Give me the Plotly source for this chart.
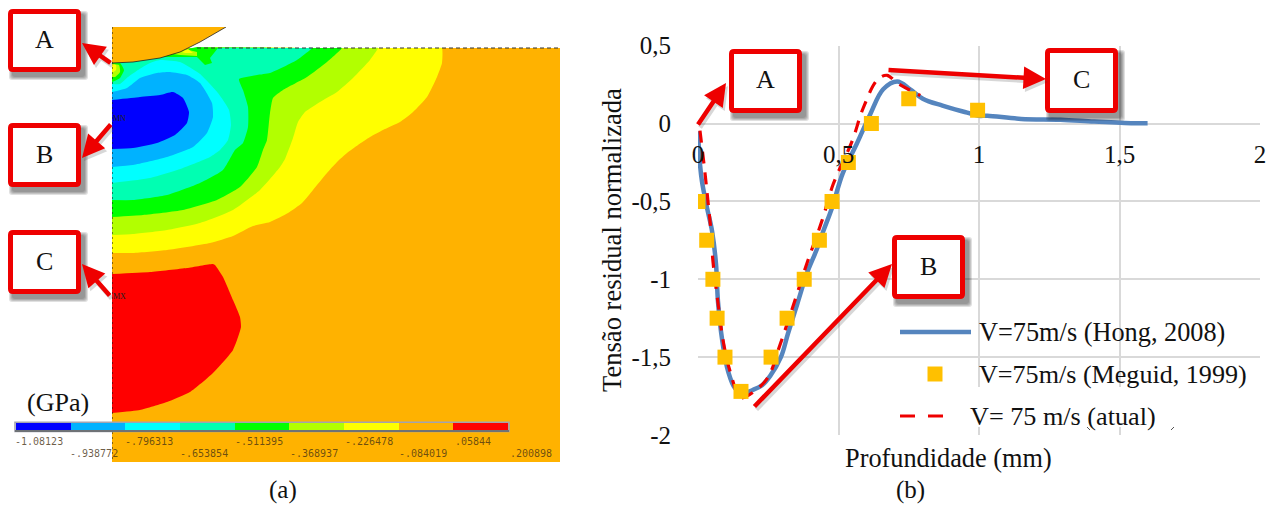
import plotly.graph_objects as go

W, H = 1274, 506

# ---------- chart (b): residual stress profile ----------
depth_ticks = [0, 0.5, 1, 1.5, 2]
depth_labels = ["0", "0,5", "1", "1,5", "2"]
stress_ticks = [0.5, 0, -0.5, -1, -1.5, -2]
stress_labels = ["0,5", "0", "-0,5", "-1", "-1,5", "-2"]

hong_x = [0.0, 0.007, 0.014, 0.032, 0.05, 0.064, 0.071, 0.086, 0.107, 0.132, 0.16, 0.196, 0.228, 0.257, 0.295, 0.32,
          0.353, 0.388, 0.42, 0.446, 0.477, 0.515, 0.565, 0.613, 0.659, 0.709, 0.755, 0.8, 0.87, 0.958, 0.998, 1.03,
          1.15, 1.29, 1.41, 1.55, 1.6]
hong_y = [-0.05, -0.26, -0.37, -0.54, -0.69, -0.9, -1.14, -1.39, -1.59, -1.7, -1.73, -1.71, -1.68, -1.62, -1.5, -1.35,
          -1.16, -0.96, -0.82, -0.69, -0.54, -0.32, -0.13, 0.06, 0.22, 0.27, 0.22, 0.16, 0.115, 0.07, 0.05, 0.05,
          0.03, 0.025, 0.013, 0.002, 0.002]
meguid_x = [0.0, 0.031, 0.053, 0.068, 0.096, 0.153, 0.26, 0.317, 0.378, 0.432, 0.477, 0.535, 0.617, 0.75, 0.995]
meguid_y = [-0.5, -0.75, -1, -1.25, -1.5, -1.72, -1.5, -1.25, -1, -0.75, -0.5, -0.25, 0, 0.16, 0.085]
atual_x = [0.007, 0.025, 0.036, 0.046, 0.053, 0.071, 0.089, 0.114, 0.153, 0.2, 0.249, 0.292, 0.346, 0.389, 0.442,
           0.481, 0.549, 0.588, 0.638, 0.673, 0.709, 0.791]
atual_y = [-0.045, -0.32, -0.51, -0.69, -0.88, -1.15, -1.39, -1.59, -1.76, -1.72, -1.63, -1.42, -1.13, -0.89, -0.62,
           -0.39, -0.11, 0.1, 0.28, 0.31, 0.26, 0.18]

series_names = ["V=75m/s (Hong, 2008)", "V=75m/s (Meguid, 1999)", "V= 75 m/s (atual)"]

# ---------- chart (a): contour map, outlines read in image coordinates ----------
levels = [-1.08123, -0.938772, -0.796313, -0.653854, -0.511395, -0.368937, -0.226478, -0.084019, 0.05844, 0.200898]
level_labels = ["-1.08123", "-.938772", "-.796313", "-.653854", "-.511395", "-.368937", "-.226478", "-.084019",
                ".05844", ".200898"]
band_colors = ["#0000FF", "#00B2FF", "#00FFFF", "#00FFB2", "#00FF00", "#B2FF00", "#FFFF00", "#FFB200", "#FF0000"]

field_x = [112, 560, 560, 112]
field_y = [48, 48, 462, 462]
ball_x = [112, 133, 160, 180, 200, 226, 226, 112]
ball_y = [63, 62, 58, 52, 42, 27, 27, 27]

yellow_x = [112, 197, 300, 438, 442, 442, 437, 427, 413, 400, 383, 370, 358, 347, 337, 327, 313, 302, 288, 270, 253,
            233, 210, 167, 133, 112]
yellow_y = [60, 48, 48, 48, 48, 63, 77, 97, 112, 122, 130, 137, 145, 153, 162, 173, 190, 203, 213, 222, 226, 236, 243,
            250, 253, 253]
lime_x = [112, 197, 300, 374, 378, 370, 353, 337, 320, 305, 298, 293, 285, 280, 260, 233, 200, 167, 133, 112]
lime_y = [60, 48, 48, 48, 48, 60, 78, 92, 102, 112, 122, 138, 159, 167, 190, 210, 223, 230, 234, 235]
green_x = [112, 197, 280, 338, 342, 327, 307, 283, 273, 270, 267, 263, 257, 240, 217, 183, 143, 112]
green_y = [60, 48, 48, 48, 48, 62, 77, 90, 98, 113, 140, 150, 167, 187, 200, 210, 215, 217]
teal_x = [112, 218, 270, 308, 312, 297, 270, 257, 239, 243, 248, 248, 243, 235, 223, 200, 167, 133, 112]
teal_y = [60, 48, 48, 48, 48, 60, 73, 75, 79, 90, 107, 127, 143, 150, 170, 183, 195, 200, 200]
cyan_x = [112, 120, 128, 138, 150, 160, 180, 200, 218, 229, 231, 228, 220, 210, 183, 150, 112]
cyan_y = [84, 84, 77, 70, 63, 60, 62, 74, 93, 110, 125, 140, 150, 157, 168, 178, 183]
sky_x = [112, 127, 140, 157, 170, 187, 200, 212, 213, 207, 193, 167, 133, 112]
sky_y = [92, 88, 78, 73, 72, 75, 83, 103, 117, 133, 147, 157, 165, 167]
blue_x = [112, 140, 160, 173, 183, 189, 187, 175, 157, 133, 112]
blue_y = [100, 97, 95, 92, 98, 112, 123, 135, 143, 148, 149]
red_x = [112, 150, 187, 213, 215, 223, 233, 240, 241, 233, 213, 190, 167, 140, 112]
red_y = [274, 272, 268, 264, 265, 277, 300, 317, 327, 350, 373, 392, 402, 410, 413]

patch_green_x = [163, 173, 197, 218, 210, 212, 205, 197, 173]
patch_green_y = [57, 52, 47, 48, 58, 63, 65, 57, 57]
patch_lime_x = [173, 185, 197, 197, 180]
patch_lime_y = [54, 49, 52, 56, 55]
patch_yellow_x = [182, 188, 193, 185]
patch_yellow_y = [52, 49, 53, 53]
spot_green_x = [112, 120, 124, 120, 112]
spot_green_y = [63, 63, 70, 78, 82]
spot_lime_x = [112, 119, 120, 115, 112]
spot_lime_y = [64, 65, 72, 77, 77]
spot_yellow_x = [112, 116, 116, 112]
spot_yellow_y = [64, 65, 70, 73]

SERIF = "Liberation Serif"
RED = "#EE0000"


def px(x):
    return x / W


def py(y):
    return 1 - y / H


fig = go.Figure()


def poly(xs, ys, color, smooth=True):
    shape = dict(shape="spline", smoothing=0.5) if smooth else dict(shape="linear")
    fig.add_trace(go.Scatter(x=xs, y=ys, mode="lines", fill="toself", fillcolor=color, line=dict(width=0, **shape),
                             hoverinfo="skip", showlegend=False, xaxis="x2", yaxis="y2"))


poly(field_x, field_y, band_colors[7], False)
poly(yellow_x, yellow_y, band_colors[6])
poly(lime_x, lime_y, band_colors[5])
poly(green_x, green_y, band_colors[4])
poly(teal_x, teal_y, band_colors[3])
poly(patch_green_x, patch_green_y, band_colors[4], False)
poly(patch_lime_x, patch_lime_y, band_colors[5], False)
poly(patch_yellow_x, patch_yellow_y, band_colors[6], False)
poly(cyan_x, cyan_y, band_colors[2])
poly(sky_x, sky_y, band_colors[1])
poly(blue_x, blue_y, band_colors[0])
poly(spot_green_x, spot_green_y, band_colors[4])
poly(spot_lime_x, spot_lime_y, band_colors[5])
poly(spot_yellow_x, spot_yellow_y, band_colors[6])
poly(red_x, red_y, band_colors[8])
poly(ball_x, ball_y, band_colors[7], False)

# thin outlines of the model
fig.add_trace(go.Scatter(x=ball_x[:6], y=ball_y[:6], mode="lines", line=dict(color="#222222", width=0.8),
                         hoverinfo="skip", showlegend=False, xaxis="x2", yaxis="y2"))
fig.add_trace(go.Scatter(x=[112, 112], y=[27, 462], mode="lines", line=dict(color="#111111", width=1, dash="2px 3px"),
                         hoverinfo="skip", showlegend=False, xaxis="x2", yaxis="y2"))
fig.add_trace(go.Scatter(x=[197, 560], y=[48, 48], mode="lines", line=dict(color="#333333", width=1, dash="4px 3px"),
                         hoverinfo="skip", showlegend=False, xaxis="x2", yaxis="y2"))

# colour bar
fig.add_trace(go.Heatmap(x=levels, y=[0, 1], z=[list(range(9))], zmin=-0.5, zmax=8.5, showscale=False,
                         hoverinfo="skip", xaxis="x3", yaxis="y3",
                         colorscale=[v for i, c in enumerate(band_colors) for v in ([i / 9, c], [(i + 1) / 9, c])]))

# curves
fig.add_trace(go.Scatter(x=hong_x, y=hong_y, mode="lines", name=series_names[0], showlegend=False,
                         line=dict(color="#5585BE", width=4.5, shape="spline", smoothing=1), xaxis="x", yaxis="y"))
fig.add_trace(go.Scatter(x=atual_x, y=atual_y, mode="lines", name=series_names[2], showlegend=False,
                         line=dict(color="#EE0000", width=3.2, dash="12px 9px", shape="spline", smoothing=1),
                         xaxis="x", yaxis="y"))
fig.add_trace(go.Scatter(x=meguid_x, y=meguid_y, mode="markers", name=series_names[1], showlegend=False,
                         marker=dict(color="#FFC000", size=15, symbol="square"), xaxis="x", yaxis="y"))

shapes = []
annotations = []


def text(x, y, s, size=26, color="#111111", anchor="center", font=SERIF, angle=0):
    annotations.append(dict(x=px(x), y=py(y), xref="paper", yref="paper", text=s, showarrow=False, xanchor=anchor,
                            yanchor="middle", textangle=angle, font=dict(family=font, size=size, color=color)))


def rect(x0, y0, x1, y1, **kw):
    shapes.append(dict(type="rect", xref="paper", yref="paper", x0=px(x0), x1=px(x1), y0=py(y0), y1=py(y1),
                       layer="above", **kw))


def line(x0, y0, x1, y1, color, width, dash=None):
    shapes.append(dict(type="line", xref="paper", yref="paper", x0=px(x0), x1=px(x1), y0=py(y0), y1=py(y1),
                       layer="above", line=dict(color=color, width=width, dash=dash or "solid")))


def rounded(x0, y0, x1, y1, r, **kw):
    a, b, c, d = px(x0), px(x1), py(y0), py(y1)
    rx, ry = r / W, r / H
    p = (f"M {a + rx} {c} L {b - rx} {c} Q {b} {c} {b} {c - ry} L {b} {d + ry} Q {b} {d} {b - rx} {d} "
         f"L {a + rx} {d} Q {a} {d} {a} {d + ry} L {a} {c - ry} Q {a} {c} {a + rx} {c} Z")
    shapes.append(dict(type="path", xref="paper", yref="paper", path=p, layer="above", **kw))


def arrow(x0, y0, x1, y1):
    annotations.append(dict(x=px(x1 + 2), y=py(y1 + 3), xref="paper", yref="paper", ax=x0 - x1, ay=y0 - y1,
                            axref="pixel", ayref="pixel", text="", showarrow=True, arrowhead=2, arrowsize=1,
                            arrowwidth=4.5, arrowcolor="rgba(60,60,60,0.2)", standoff=0))
    annotations.append(dict(x=px(x1), y=py(y1), xref="paper", yref="paper", ax=x0 - x1, ay=y0 - y1,
                            axref="pixel", ayref="pixel", text="", showarrow=True, arrowhead=2, arrowsize=1,
                            arrowwidth=4.5, arrowcolor=RED, standoff=0))


def callout(x0, y0, x1, y1, s):
    for g in (3, 2, 1, 0):
        rounded(x0 + 4 - g, y0 + 5 - g, x1 + 4 + g, y1 + 5 + g, 3, fillcolor="rgba(0,0,0,0.12)", line=dict(width=0))
    rounded(x0 + 2.5, y0 + 2.5, x1 - 2.5, y1 - 2.5, 2.5, fillcolor="white", line=dict(color=RED, width=5))
    text((x0 + x1) / 2, (y0 + y1) / 2 - 1, s, size=26)


# legend of chart (b) drawn as in the picture
rect(972, 387, 1130, 427, fillcolor="white", line=dict(width=0))
line(900, 332, 971, 332, "#5585BE", 4.5)
rect(927.5, 366.5, 942.5, 381.5, fillcolor="#FFC000", line=dict(width=0))
line(900, 416, 915, 416, RED, 3)
line(928, 416, 943, 416, RED, 3)
text(977, 332, series_names[0], anchor="left", size=26.3)
text(977, 374, series_names[1], anchor="left", size=26.1)
text(968, 416, series_names[2], anchor="left", size=26.2)
line(1087, 427, 1090, 430, "#555555", 1)
line(1171, 430, 1174, 427, "#555555", 1)

# callouts
callout(8, 9, 81, 72, "A")
callout(8, 123, 81, 187, "B")
callout(8, 230, 81, 294, "C")
callout(729, 49, 802, 113, "A")
callout(1045, 48, 1118, 113, "C")
callout(892, 235, 965, 299, "B")
arrow(112, 64, 82, 43)
arrow(112, 123, 82, 158)
arrow(111, 297, 82, 264)
arrow(697, 126, 726, 83)
arrow(887, 70, 1046, 79)
arrow(753, 408, 892, 264)

# colour-bar frame and labels
rect(15, 422.3, 509, 431.5, line=dict(color="#A3A3B0", width=1.6))
line(15, 431, 509, 431, "#6E7276", 2)
label_x = [13, 68, 123, 178, 233, 288, 343, 397, 453, 508]
for i, s in enumerate(level_labels):
    text(label_x[i], 441 if i % 2 == 0 else 453, s, size=10, color="rgba(70,50,20,0.78)", anchor="left",
         font="DejaVu Sans Mono")
text(111, 119, "MN", size=8, anchor="left", color="#222222")
text(111, 296, "MX", size=8, anchor="left", color="#222222")

text(58, 402, "(GPa)", size=26)
text(283, 490, "(a)", size=25)
text(910, 490, "(b)", size=25)
text(948, 458, "Profundidade (mm)", size=26.3)
text(612, 240, "Tensão residual normalizada", size=26.6, angle=-90)

GRID = "#D9D9D9"
fig.update_layout(
    width=W, height=H, autosize=False, margin=dict(l=0, r=0, t=0, b=0, pad=0, autoexpand=False),
    paper_bgcolor="white", plot_bgcolor="rgba(0,0,0,0)", showlegend=False,
    font=dict(family=SERIF, color="#111111"),
    xaxis=dict(domain=[px(698), px(1260)], range=[0, 2], tickvals=depth_ticks, ticktext=depth_labels,
               anchor="free", position=py(123), showgrid=True, gridcolor=GRID, gridwidth=1.6, zeroline=False,
               showline=False, ticks="outside", ticklen=9, tickcolor="rgba(0,0,0,0)",
               tickfont=dict(family=SERIF, size=25, color="#111111")),
    yaxis=dict(domain=[py(435), py(45.7)], range=[-2, 0.5], tickvals=stress_ticks, ticktext=stress_labels,
               anchor="x", showgrid=True, gridcolor=GRID, gridwidth=1.6, zeroline=False, showline=False,
               ticks="outside", ticklen=21, tickcolor="rgba(0,0,0,0)",
               tickfont=dict(family=SERIF, size=25, color="#111111")),
    xaxis2=dict(domain=[px(112), px(560)], range=[112, 560], visible=False),
    yaxis2=dict(domain=[py(462), py(27)], range=[462, 27], visible=False, anchor="x2"),
    xaxis3=dict(domain=[px(16), px(508)], range=[levels[0], levels[-1]], visible=False),
    yaxis3=dict(domain=[py(430), py(423)], range=[0, 1], visible=False, anchor="x3"),
    shapes=shapes, annotations=annotations,
)

fig.write_html("out.html", config=dict(displayModeBar=False),
               post_script="document.body.style.margin='0';document.documentElement.style.overflow='hidden';")
